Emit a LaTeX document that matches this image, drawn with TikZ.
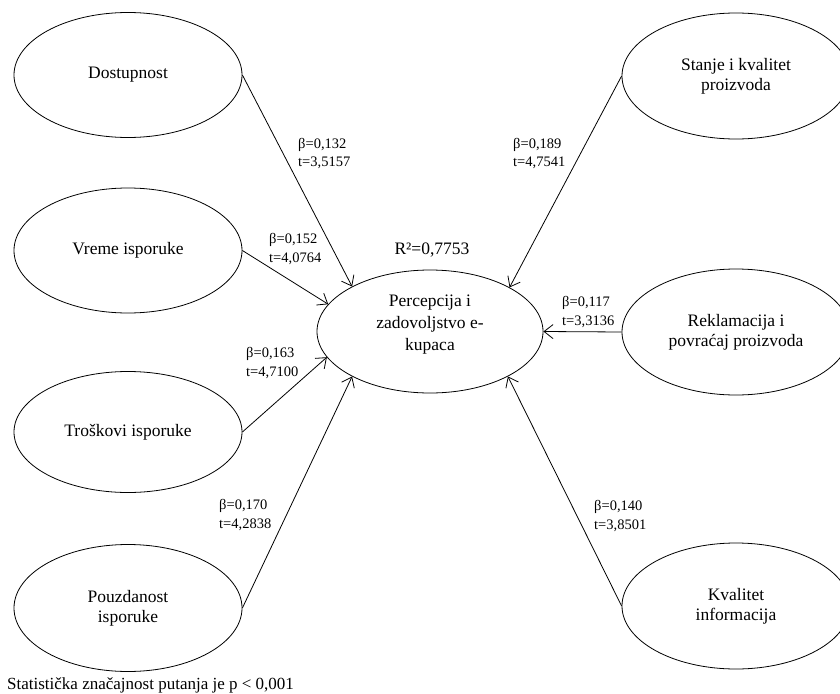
\documentclass[tikz,border=0pt]{standalone}
\usepackage{fontspec}
\setmainfont{Liberation Serif}
\usetikzlibrary{shapes.geometric,arrows.meta}
\begin{document}
\begin{tikzpicture}[x=1pt,y=-1pt,
  var/.style={draw, ellipse, line width=0.8pt, minimum width=228pt, minimum height=125pt, inner sep=0pt, align=center, font=\fontsize{17.5}{20}\selectfont},
  coef/.style={anchor=west, align=left, inner sep=0pt, font=\fontsize{14.5}{18.5}\selectfont},
  conn/.style={line width=0.8pt, -{Straight Barb[length=9pt,width=14pt,line width=0.8pt]}},
  plain/.style={inner sep=0pt, align=center, font=\fontsize{17.5}{22}\selectfont}]
\clip (0,0) rectangle (840,693);
% left constructs
\node[var] (dos) at (128,75) {Dostupnost};
\node[var] (vre) at (128,250.5) {Vreme isporuke};
\node[var, minimum height=121pt] (tro) at (128,432) {Troškovi isporuke};
\node[var, minimum height=127pt] (pou) at (128,608) {Pouzdanost\\isporuke};
% right constructs
\node[var, minimum height=126pt] (sta) at (736,76) {Stanje i kvalitet\\proizvoda};
\node[var, minimum height=126pt] (rek) at (736,332) {Reklamacija i\\povraćaj proizvoda};
\node[var, minimum height=126pt] (kva) at (736,606) {Kvalitet\\informacija};
% central construct
\node[var, minimum width=226pt, minimum height=123pt] (per) at (430,331.5) {};
\node[plain] (pert) at (430,325) {Percepcija i\\zadovoljstvo e-\\kupaca};
\node[plain] (r2) at (432,250) {R²=0,7753};
% paths
\draw[conn] (dos.east) -- (per.150.9);
\draw[conn] (vre.east) -- (per.165.4);
\draw[conn] (tro.east) -- (per.194.6);
\draw[conn] (pou.east) -- (per.210.2);
\draw[conn] (sta.west) -- (per.29.9);
\draw[conn] (rek.west) -- (per.0);
\draw[conn] (kva.west) -- (per.-30.2);
% coefficients
\node[coef] (l1) at (298,153.5) {β=0,132\\t=3,5157};
\node[coef] (l2) at (269,249) {β=0,152\\t=4,0764};
\node[coef] (l3) at (246,363) {β=0,163\\t=4,7100};
\node[coef] (l4) at (219,515) {β=0,170\\t=4,2838};
\node[coef] (l5) at (513,153.5) {β=0,189\\t=4,7541};
\node[coef] (l6) at (562,312) {β=0,117\\t=3,3136};
\node[coef] (l7) at (594,516) {β=0,140\\t=3,8501};
% footnote
\node[anchor=west, inner sep=0pt, font=\fontsize{17}{20}\selectfont] (note) at (7,685) {Statistička značajnost putanja je p < 0,001};
\end{tikzpicture}
\end{document}
